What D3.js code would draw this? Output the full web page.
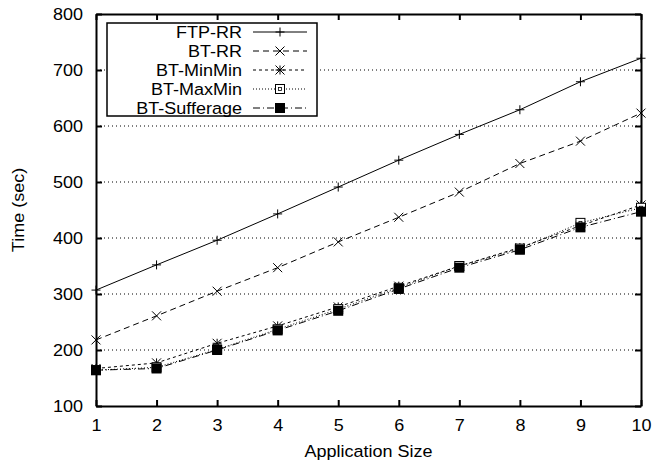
<!DOCTYPE html>
<html>
<head>
<meta charset="utf-8">
<script src="https://cdn.jsdelivr.net/npm/d3@7"></script>
<style>
  body { margin: 0; background: #fff; }
  text { font-family: "Liberation Sans", Arial, sans-serif; fill: #000; }
</style>
</head>
<body>
<svg id="chart" width="655" height="462"></svg>
<script>
const sizes = [1, 2, 3, 4, 5, 6, 7, 8, 9, 10];
const ftpRR = [307, 352, 396, 443, 491, 539, 585, 629, 679, 721];
const btRR = [218, 261, 305, 347, 393, 437, 482, 533, 573, 623];
const btMinMin = [167, 177, 212, 243, 277, 314, 350, 383, 422, 459];
const btMaxMin = [164, 169, 201, 237, 273, 311, 350, 381, 427, 454];
const btSufferage = [164, 167, 200, 235, 270, 309, 347, 379, 419, 447];
const yTicks = [100, 200, 300, 400, 500, 600, 700, 800];

const series = [
  { name: "FTP-RR", values: ftpRR, dash: null, marker: "plus" },
  { name: "BT-RR", values: btRR, dash: "6,4", marker: "cross" },
  { name: "BT-MinMin", values: btMinMin, dash: "3,3", marker: "star" },
  { name: "BT-MaxMin", values: btMaxMin, dash: "1,2", marker: "open" },
  { name: "BT-Sufferage", values: btSufferage, dash: "7,3,1,3", marker: "filled" },
];

const width = 655, height = 462;
const margin = { top: 14, right: 14, bottom: 56, left: 96 };
const fs = 17;
const sx = 1.06; // text looks a bit wide in the reference

const svg = d3.select("#chart");

const x = d3.scaleLinear().domain([1, 10]).range([margin.left, width - margin.right]);
const y = d3.scaleLinear().domain([100, 800]).range([height - margin.bottom, margin.top]);

// grid
svg.append("g")
  .selectAll("line")
  .data(yTicks.slice(1, -1))
  .join("line")
  .attr("x1", margin.left).attr("x2", width - margin.right)
  .attr("y1", d => y(d)).attr("y2", d => y(d))
  .attr("stroke", "#000").attr("stroke-width", 1)
  .attr("stroke-dasharray", "1,3");

const stretch = (g) => {
  g.selectAll(".tick text").each(function () {
    const t = d3.select(this);
    const tx = +t.attr("x") || 0;
    t.attr("x", tx / sx).attr("transform", `scale(${sx},1)`)
      .attr("font-size", fs).attr("fill", "#000");
  });
};

svg.append("g")
  .attr("transform", `translate(${margin.left},0)`)
  .call(d3.axisLeft(y).tickValues(yTicks).tickSize(-6).tickPadding(13).tickSizeOuter(0))
  .call(stretch);

svg.append("g")
  .attr("transform", `translate(${width - margin.right},0)`)
  .call(d3.axisRight(y).tickValues(yTicks).tickSize(-6).tickFormat("").tickSizeOuter(0));

svg.append("g")
  .attr("transform", `translate(0,${height - margin.bottom})`)
  .call(d3.axisBottom(x).tickValues(sizes).tickSize(-6).tickPadding(13).tickFormat(d3.format("d")).tickSizeOuter(0))
  .call(stretch);

svg.append("g")
  .attr("transform", `translate(0,${margin.top})`)
  .call(d3.axisTop(x).tickValues(sizes).tickSize(-6).tickFormat("").tickSizeOuter(0));

svg.selectAll(".domain").attr("stroke", "#000").attr("stroke-width", 2);
svg.selectAll(".tick line").attr("stroke", "#000").attr("stroke-width", 2);

// axis titles
svg.append("text")
  .attr("transform", `translate(${(margin.left + width - margin.right) / 2},457) scale(${sx},1)`)
  .attr("text-anchor", "middle").attr("font-size", fs)
  .text("Application Size");

svg.append("text")
  .attr("transform", `translate(24,${(margin.top + height - margin.bottom) / 2}) rotate(-90) scale(${sx},1)`)
  .attr("text-anchor", "middle").attr("font-size", fs)
  .text("Time (sec)");

function drawMarker(g, type, cx, cy) {
  const r = 4.5;
  if (type === "plus" || type === "star") {
    g.append("path").attr("d", `M${cx - r},${cy}H${cx + r}M${cx},${cy - r}V${cy + r}`)
      .attr("stroke", "#000").attr("stroke-width", 1);
  }
  if (type === "cross" || type === "star") {
    g.append("path").attr("d", `M${cx - r},${cy - r}L${cx + r},${cy + r}M${cx - r},${cy + r}L${cx + r},${cy - r}`)
      .attr("stroke", "#000").attr("stroke-width", 1);
  }
  if (type === "open") {
    g.append("rect").attr("x", cx - r).attr("y", cy - r).attr("width", 2 * r).attr("height", 2 * r)
      .attr("fill", "#fff").attr("stroke", "#000").attr("stroke-width", 1);
    g.append("rect").attr("x", cx - 1.5).attr("y", cy - 1.5).attr("width", 3).attr("height", 3)
      .attr("fill", "#fff").attr("stroke", "#000").attr("stroke-width", 0.8);
  }
  if (type === "filled") {
    g.append("rect").attr("x", cx - 5).attr("y", cy - 5).attr("width", 10).attr("height", 10)
      .attr("fill", "#000");
  }
}

const line = d3.line().x((d, i) => x(sizes[i])).y(d => y(d));

series.forEach(s => {
  const g = svg.append("g");
  g.append("path")
    .attr("d", line(s.values))
    .attr("fill", "none").attr("stroke", "#000").attr("stroke-width", 1)
    .attr("stroke-dasharray", s.dash);
  s.values.forEach((v, i) => drawMarker(g, s.marker, x(sizes[i]), y(v)));
});

// legend
const legend = svg.append("g");
legend.append("rect")
  .attr("x", 107).attr("y", 23).attr("width", 210).attr("height", 93)
  .attr("fill", "#fff").attr("stroke", "#000").attr("stroke-width", 1.5);

series.forEach((s, i) => {
  const ly = 32 + i * 19;
  legend.append("text")
    .attr("transform", `translate(242,${ly}) scale(${sx},1)`)
    .attr("text-anchor", "end").attr("dy", "0.35em").attr("font-size", fs)
    .text(s.name);
  legend.append("line")
    .attr("x1", 253).attr("x2", 307).attr("y1", ly).attr("y2", ly)
    .attr("stroke", "#000").attr("stroke-width", 1)
    .attr("stroke-dasharray", s.dash);
  drawMarker(legend, s.marker, 280, ly);
});
</script>
</body>
</html>
